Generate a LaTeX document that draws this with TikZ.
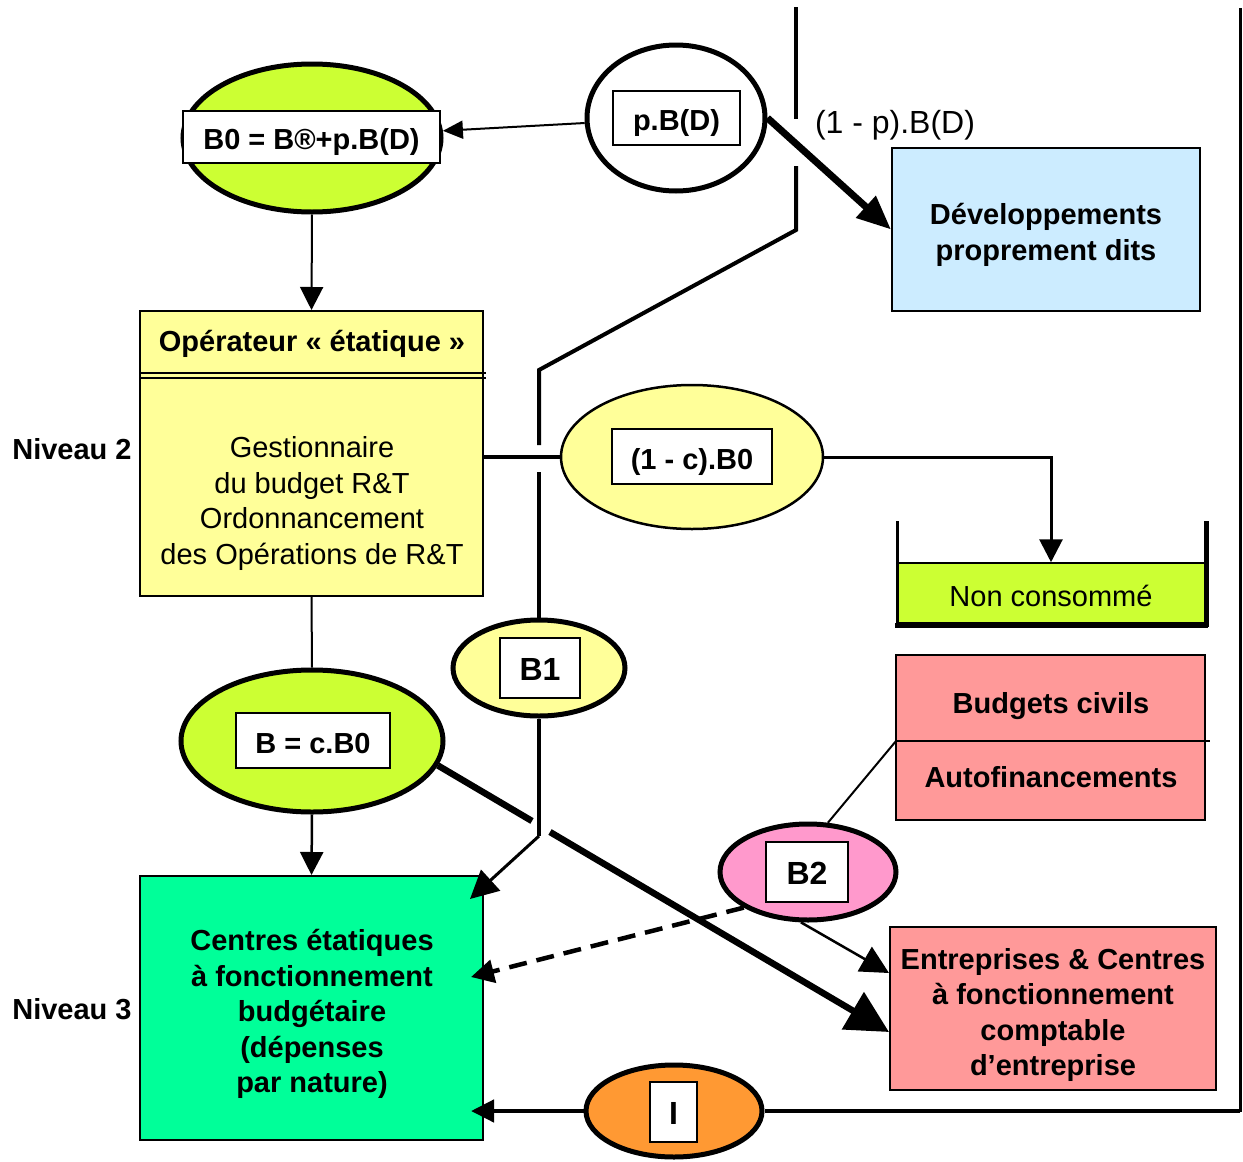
\documentclass[tikz,border=0pt]{standalone}
\usepackage{fontspec}
\setmainfont{Liberation Sans}
\usetikzlibrary{shapes.geometric,arrows.meta}
\definecolor{cLime}{HTML}{CCFF33}
\definecolor{cPale}{HTML}{FFFF99}
\definecolor{cSky}{HTML}{CCECFF}
\definecolor{cMint}{HTML}{00FF99}
\definecolor{cSalmon}{HTML}{FF9999}
\definecolor{cPink}{HTML}{FF99CC}
\definecolor{cOrange}{HTML}{FF9933}
\begin{document}
\begin{tikzpicture}[x=1pt,y=-1pt,
  txt/.style={font=\fontsize{29}{35.5}\selectfont},
  bold/.style={font=\fontsize{29}{35.5}\selectfont\bfseries},
  oval/.style={ellipse, draw, line width=5pt, inner sep=0pt},
  tag/.style={draw, fill=white, line width=2pt, inner sep=0pt,
    text height=27pt, text depth=2pt,
    font=\fontsize{29}{35}\selectfont\bfseries},
  bigtag/.style={tag, font=\fontsize{32}{38}\selectfont\bfseries},
  panel/.style={draw, line width=2pt, inner sep=0pt},
  headed/.style={-{Triangle[length=23pt,width=23pt]}},
  midheaded/.style={-{Triangle[length=28pt,width=28pt]}},
  bigheaded/.style={-{Triangle[length=34pt,width=28pt]}},
  hugeheaded/.style={-{Triangle[length=42pt,width=42pt]}},
  dashline/.style={line width=4.5pt, dash pattern=on 18pt off 10pt}
]
\fill[white] (0,0) rectangle (1243,1162);
\useasboundingbox (0,0) rectangle (1243,1162);

% ---- ovals with their labelled boxes ----
\node[oval, fill=cLime, minimum width=258pt, minimum height=148pt] (b0) at (312,138) {};
\node[tag, minimum width=257pt, minimum height=52pt] (b0t) at (311.5,137) {B0 = B®+p.B(D)};

\node[oval, fill=white, minimum width=178pt, minimum height=146pt] (pbd) at (676,118) {};
\node[tag, minimum width=127pt, minimum height=54pt] (pbdt) at (676.5,118) {p.B(D)};

\node[oval, line width=2.5pt, fill=cPale, minimum width=262pt, minimum height=144pt] (c1) at (692,457) {};
\node[tag, minimum width=160pt, minimum height=55pt] (c1t) at (692,456.5) {(1 - c).B0};

\node[oval, fill=cPale, minimum width=172pt, minimum height=96pt] (b1) at (539,668) {};
\node[bigtag, minimum width=80pt, minimum height=60pt] (b1t) at (540,668) {B1};

\node[oval, fill=cLime, minimum width=262pt, minimum height=142pt] (bn) at (312,741) {};
\node[tag, minimum width=154pt, minimum height=55pt] (bnt) at (313,740.5) {B = c.B0};

\node[oval, fill=cPink, minimum width=176pt, minimum height=96pt] (b2) at (808,872) {};
\node[bigtag, minimum width=82pt, minimum height=60pt] (b2t) at (807,872) {B2};

\node[oval, fill=cOrange, minimum width=176pt, minimum height=92pt] (io) at (674,1111) {};
\node[bigtag, minimum width=47pt, minimum height=60pt] (iot) at (673.5,1112) {I};

% ---- boxes ----
\node[panel, fill=cSky, minimum width=308pt, minimum height=163pt] (dev) at (1046,229.5) {};
\node[bold, align=center] (devtext) at (1046,235) {Développements\\proprement dits};

\node[panel, fill=cPale, minimum width=343pt, minimum height=285pt] (op) at (311.5,453.5) {};
\node[bold] (ophead) at (312,344) {Opérateur « étatique »};
\draw[line width=1.5pt] (140,373) -- (486,373);
\draw[line width=1.5pt] (140,378) -- (486,378);
\node[txt, align=center] (opbody) at (312,503.5)
  {Gestionnaire\\du budget R\&T\\Ordonnancement\\des Opérations de R\&T};

\node[draw, line width=1.5pt, fill=cLime, minimum width=308pt, minimum height=60pt,
  inner sep=0pt] (nc) at (1051,593) {};
\node[txt] (nctext) at (1051,596) {Non consommé};
\draw[line width=3pt] (897,521) -- (897,626);
\draw[line width=5pt] (1206,521) -- (1206,627);
\draw[line width=5pt] (895,625) -- (1208,625);

\node[panel, fill=cSalmon, minimum width=309pt, minimum height=165pt] (bud) at (1050.5,737.5) {};
\node[bold] (budtop) at (1051,706) {Budgets civils};
\node[bold] (budbot) at (1051,777) {Autofinancements};
\draw[line width=1.5pt] (896,741) -- (1210,741);
\coordinate (bdiv) at (896,741);

\node[panel, fill=cSalmon, minimum width=326pt, minimum height=163pt] (ent) at (1053,1008.5) {};
\node[bold, align=center] (enttext) at (1053,1015)
  {Entreprises \& Centres\\à fonctionnement\\comptable\\d’entreprise};

\node[panel, fill=cMint, minimum width=343pt, minimum height=264pt] (cen) at (311.5,1008) {};
\node[bold, align=center] (centext) at (312,1014)
  {Centres étatiques\\à fonctionnement\\budgétaire\\(dépenses\\par nature)};

% ---- side labels ----
\node[bold] (niv2) at (72,449) {Niveau 2};
\node[bold] (niv3) at (72,1009) {Niveau 3};
\node[font=\fontsize{32}{38}\selectfont] (oneminusp) at (895,125) {(1 - p).B(D)};

% ---- connectors ----
\draw[line width=2pt, -{Triangle[length=20pt,width=18pt]}] (pbd) -- (b0);
\draw[line width=2pt, headed] (b0.south) -- (op.north);
\draw[line width=2pt] (op.south) -- (bn.north);
\draw[line width=2.5pt, headed] (bn.south) -- (cen.north);

\draw[line width=4pt] (c1.west -| op.east) -- (c1.west);
\draw[line width=3pt, headed] (c1.east) -| (nc.north);

\draw[line width=7pt, bigheaded] (pbd.east) -- (dev.west);

% broken feed line coming down from the top edge to B1
\coordinate (t0) at (796,7);
\coordinate (t1) at (796,119);
\coordinate (t2) at (796,166);
\coordinate (t3) at (796,230);
\coordinate (t4) at (539,370);
\coordinate (t5) at (539,445);
\coordinate (t6) at (539,472);
\draw[line width=4pt] (t0) -- (t1);
\draw[line width=4pt, line join=miter] (t2) -- (t3) -- (t4) -- (t5);
\draw[line width=4pt] (t6) -- (b1.north);

% B1 down to the state centres
\coordinate (j1) at (539,836);
\coordinate (cin1) at (470,899);
\draw[line width=4pt] (b1.south) -- (j1);
\draw[line width=3pt, midheaded] (j1) -- (cin1);

% B towards the companies, jumping over the B1 line
\coordinate (ga) at (532,821);
\coordinate (gb) at (550,832);
\draw[line width=6.5pt] (bn.-11) -- (ga);
\draw[line width=6.5pt, hugeheaded] (gb) -- (ent.west |- 0,1032);

% B2 links
\draw[line width=2pt] (bdiv) -- (b2.68);
\draw[dashline, headed] (b2.209) -- (471,977);
\draw[line width=2.5pt, midheaded] (b2.262) -- (ent.west |- 0,973);

% return loop through I
\coordinate (rtop) at (1240,8);
\coordinate (rbot) at (1240,1112);
\draw[line width=3pt] (rtop) -- (rbot);
\draw[line width=4.5pt] (rbot |- io.east) -- (io.east);
\draw[line width=4.5pt, -{Triangle[length=23pt,width=22pt]}] (io.west) -- (471,1111);
\end{tikzpicture}
\end{document}
